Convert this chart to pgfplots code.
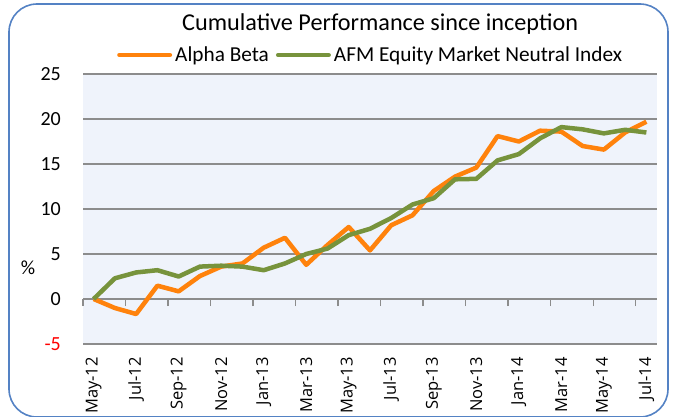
\documentclass[border=0pt]{standalone}
\usepackage{pgfplots}
\pgfplotsset{compat=1.18}
\usepackage{fontspec}
\setmainfont{Carlito}
\newfontfamily\xfont{Open Sans}
\definecolor{orangeAB}{RGB}{255,130,12}
\definecolor{greenAFM}{RGB}{119,147,60}
\definecolor{bordblue}{RGB}{84,130,196}
\definecolor{plotbg}{RGB}{239,243,251}
\definecolor{gridgray}{RGB}{140,140,140}
\begin{document}
\begin{tikzpicture}[x=1pt,y=1pt]
\useasboundingbox (0,0) rectangle (674,416);
\draw[bordblue, line width=1.6pt, rounded corners=28pt] (9,-1) rectangle (668,412);
\node[font=\fontsize{24.2}{28}\selectfont, anchor=base west, inner sep=0pt] at (182,385) {Cumulative Performance since inception};
\node[font=\fontsize{20}{23}\selectfont] at (28,148) {\%};
\begin{axis}[
  at={(83pt,72pt)}, anchor=south west, scale only axis,
  width=574pt, height=270pt,
  xmin=-0.5, xmax=26.5, ymin=-5, ymax=25,
  axis background/.style={fill=plotbg},
  axis x line*=middle, axis y line*=left,
  x axis line style={draw=gridgray, line width=1.3pt, -},
  y axis line style={draw=none},
  tick align=outside,
  major tick length=0pt,
  minor tick length=7pt,
  minor x tick style={gridgray, line width=1.4pt},
  minor xtick={-0.5,1.5,...,25.5},
  ytick={-5,0,5,10,15,20,25},
  yticklabels={\textcolor{red}{-5},0,5,10,15,20,25},
  ymajorgrids,
  grid style={gridgray, line width=1.3pt},
  yticklabel style={font=\fontsize{20}{23}\selectfont, inner sep=0pt, anchor=east},
  yticklabel shift=22pt,
  xtick={0,2,...,26},
  xticklabels={May-12,Jul-12,Sep-12,Nov-12,Jan-13,Mar-13,May-13,Jul-13,Sep-13,Nov-13,Jan-14,Mar-14,May-14,Jul-14},
  xticklabel style={font=\xfont\fontsize{16.5}{19}\selectfont, rotate=90, anchor=east, inner sep=0pt},
  xticklabel shift=58pt,
  clip=false,
  legend columns=2,
  legend style={at={(0.0592,1.0704)}, anchor=west, draw=none, fill=none,
    font=\fontsize{21.3}{24}\selectfont, inner sep=0pt,
    nodes={inner sep=0pt},
    /tikz/every odd column/.append style={column sep=3pt},
    /tikz/every even column/.append style={column sep=7pt}},
  legend image code/.code={\draw[#1, line width=4.5pt, line cap=round] (2.25pt,0pt) -- (52.75pt,0pt);},
]
\addplot[orangeAB, line width=4.5pt, line join=round] coordinates {
(0,0) (1,-1.0) (2,-1.67) (3,1.48) (4,0.85) (5,2.55) (6,3.6) (7,3.95) (8,5.7) (9,6.8)
(10,3.8) (11,6.0) (12,8.0) (13,5.4) (14,8.2) (15,9.3) (16,12.0) (17,13.6) (18,14.6)
(19,18.1) (20,17.5) (21,18.7) (22,18.6) (23,17.0) (24,16.6) (25,18.5) (26,19.7)
};
\addlegendentry{Alpha Beta}
\addplot[greenAFM, line width=4.5pt, line join=round] coordinates {
(0,0) (1,2.3) (2,2.95) (3,3.2) (4,2.5) (5,3.6) (6,3.7) (7,3.6) (8,3.2) (9,3.95)
(10,5.0) (11,5.6) (12,7.1) (13,7.8) (14,9.0) (15,10.5) (16,11.2) (17,13.3) (18,13.35)
(19,15.4) (20,16.1) (21,17.85) (22,19.1) (23,18.85) (24,18.4) (25,18.8) (26,18.5)
};
\addlegendentry{AFM Equity Market Neutral Index}
\end{axis}
\end{tikzpicture}
\end{document}
